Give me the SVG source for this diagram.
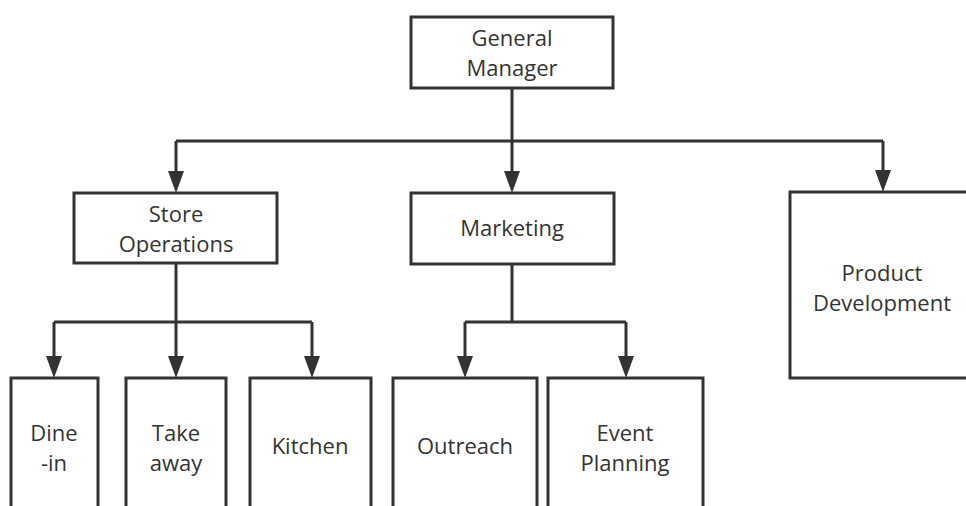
<svg xmlns="http://www.w3.org/2000/svg" width="966" height="506" viewBox="0 0 966 506">
<defs>
<style>
.box{fill:#fff;stroke:#333;stroke-width:3}
.t{font-family:"Open Sans","Noto Sans","DejaVu Sans",sans-serif;font-size:22px;fill:#333;text-anchor:middle}
.c{fill:none;stroke:#333;stroke-width:3}
.ah{fill:#333}
</style>
</defs>
<rect width="966" height="506" fill="#fff"/>
<g id="connectors">
<path class="c" d="M512,88 V141"/>
<path class="c" d="M176,141 H883"/>
<path class="c" d="M176,141 V175"/>
<path class="c" d="M512,141 V175"/>
<path class="c" d="M883,141 V174"/>
<path class="c" d="M176,263 V322"/>
<path class="c" d="M54,322 H312"/>
<path class="c" d="M54,322 V360"/>
<path class="c" d="M176,322 V360"/>
<path class="c" d="M312,322 V360"/>
<path class="c" d="M512,264 V322"/>
<path class="c" d="M465,322 H626"/>
<path class="c" d="M465,322 V360"/>
<path class="c" d="M626,322 V360"/>
<polygon class="ah" points="168,171 184,171 176,193"/>
<polygon class="ah" points="504,171 520,171 512,193"/>
<polygon class="ah" points="875,170 891,170 883,192"/>
<polygon class="ah" points="46,356 62,356 54,378"/>
<polygon class="ah" points="168,356 184,356 176,378"/>
<polygon class="ah" points="304,356 320,356 312,378"/>
<polygon class="ah" points="457,356 473,356 465,378"/>
<polygon class="ah" points="618,356 634,356 626,378"/>
</g>
<g id="gm"><rect class="box" x="411" y="17" width="202" height="71"/><text class="t" x="512" y="46">General</text><text class="t" x="512" y="76">Manager</text></g>
<g id="store"><rect class="box" x="74" y="193" width="203" height="70"/><text class="t" x="176" y="222">Store</text><text class="t" x="176" y="252">Operations</text></g>
<g id="marketing"><rect class="box" x="411" y="193" width="203" height="71"/><text class="t" x="512" y="236">Marketing</text></g>
<g id="product"><rect class="box" x="790" y="192" width="190" height="186"/><text class="t" x="882" y="281">Product</text><text class="t" x="882" y="311">Development</text></g>
<g id="dinein"><rect class="box" x="11" y="378" width="87" height="140"/><text class="t" x="54" y="441">Dine</text><text class="t" x="54" y="471">-in</text></g>
<g id="takeaway"><rect class="box" x="126" y="378" width="100" height="140"/><text class="t" x="176" y="441">Take</text><text class="t" x="176" y="471">away</text></g>
<g id="kitchen"><rect class="box" x="250" y="378" width="121" height="140"/><text class="t" x="310" y="454">Kitchen</text></g>
<g id="outreach"><rect class="box" x="393" y="378" width="144" height="140"/><text class="t" x="465" y="454">Outreach</text></g>
<g id="event"><rect class="box" x="548" y="378" width="155" height="140"/><text class="t" x="625" y="441">Event</text><text class="t" x="625" y="471">Planning</text></g>
</svg>
